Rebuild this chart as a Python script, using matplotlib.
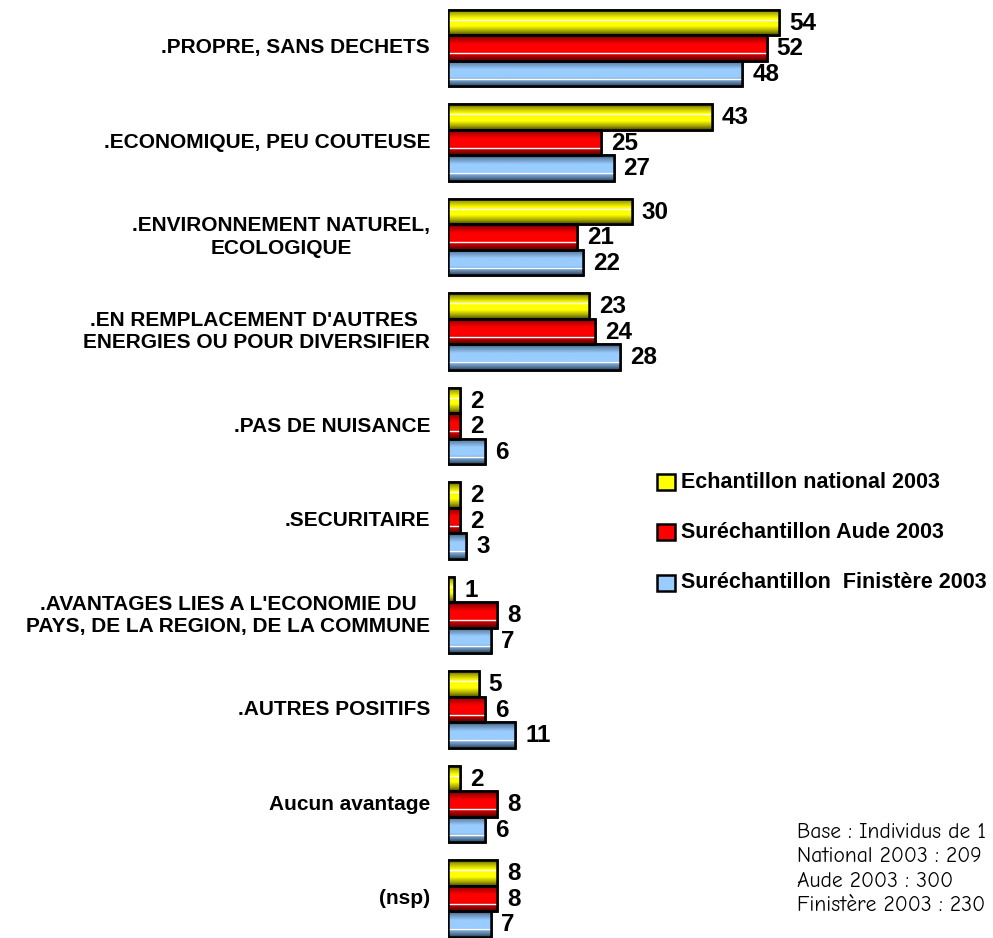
import matplotlib
matplotlib.use("Agg")
import matplotlib.pyplot as plt
import numpy as np
from matplotlib.colors import LinearSegmentedColormap, to_rgb
from matplotlib.patches import Rectangle

categories = [
    ".PROPRE, SANS DECHETS",
    ".ECONOMIQUE, PEU COUTEUSE",
    ".ENVIRONNEMENT NATUREL,\nECOLOGIQUE",
    ".EN REMPLACEMENT D'AUTRES \nENERGIES OU POUR DIVERSIFIER",
    ".PAS DE NUISANCE",
    ".SECURITAIRE",
    ".AVANTAGES LIES A L'ECONOMIE DU\nPAYS, DE LA REGION, DE LA COMMUNE",
    ".AUTRES POSITIFS",
    "Aucun avantage",
    "(nsp)",
]
series_names = ["Echantillon national 2003", "Suréchantillon Aude 2003", "Suréchantillon  Finistère 2003"]
national = [54, 43, 30, 23, 2, 2, 1, 5, 2, 8]
aude = [52, 25, 21, 24, 2, 2, 8, 6, 8, 8]
finistere = [48, 27, 22, 28, 6, 3, 7, 11, 6, 7]
base_lines = ["Base : Individus de 1", "National 2003 : 209", "Aude 2003 : 300", "Finistère 2003 : 230"]

colors = ["#FFFF00", "#FF0000", "#99CCFF"]
darks = ["#4A4A00", "#500000", "#2E4660"]

W, H = 993, 938
fig = plt.figure(figsize=(W / 100, H / 100), dpi=100)
px_per_unit = 6.13
pitch = 94.5
ax_left = 448
ax = fig.add_axes([ax_left / W, 0, (W - ax_left) / W, 1])
xlim = (0, (W - ax_left) / px_per_unit)
ylim = ((H - 48) / pitch, -48 / pitch)
ax.axis("off")

bh = 25.5 / pitch
y = np.arange(len(categories))
offsets = [-bh, 0, bh]
all_series = [national, aude, finistere]


def blend(a, b, t):
    a, b = np.array(to_rgb(a)), np.array(to_rgb(b))
    return tuple(a * (1 - t) + b * t)


for s, (vals, c, d) in enumerate(zip(all_series, colors, darks)):
    cmap = LinearSegmentedColormap.from_list(
        "g%d" % s,
        [(0.0, d), (0.12, blend(d, c, 0.5)), (0.35, c), (0.65, c), (0.85, blend(d, c, 0.5)), (1.0, d)])
    bars = ax.barh(y + offsets[s], vals, height=bh, color=c, edgecolor="black",
                   linewidth=1.8, zorder=3)
    for b, v in zip(bars, vals):
        x0, yb = b.get_x(), b.get_y()
        w, h = b.get_width(), b.get_height()
        grad = np.linspace(0, 1, 64).reshape(-1, 1)
        im = ax.imshow(grad, extent=(x0, x0 + w, yb + h, yb), aspect="auto", origin="upper",
                       cmap=cmap, vmin=0, vmax=1, zorder=3.5, interpolation="bilinear")
        im.set_clip_path(b)
        wl = 0.4 if s == 0 else 0.7
        ax.plot([x0, x0 + w], [yb + h * wl, yb + h * wl], color="white", lw=1.0, zorder=3.7,
                solid_capstyle="butt")
        edge = Rectangle((x0, yb), w, h, fill=False, edgecolor="black", lw=1.8, zorder=4)
        ax.add_patch(edge)
        ax.text(v + 10 / px_per_unit, yb + h / 2 + 0.01, str(v), ha="left", va="center",
                fontsize=17.5, fontweight="bold", family="Liberation Sans", zorder=5)

ax.set_xlim(*xlim)
ax.set_ylim(*ylim)

for i, cat in enumerate(categories):
    fig.text(430 / W, 1 - (48 + i * pitch) / H, cat, ha="right", va="center",
             multialignment="center", fontsize=15, fontweight="bold",
             family=["Liberation Sans", "DejaVu Sans"], linespacing=1.2)

# legend
leg_y = [482, 532, 583]
for name, c, d, ly in zip(series_names, colors, darks, leg_y):
    fig.patches.append(Rectangle((657 / W, 1 - (ly + 8) / H), 18 / W, 16 / H,
                                 transform=fig.transFigure, facecolor=c,
                                 edgecolor="black", lw=1.8))
    fig.text(681 / W, 1 - ly / H, name, ha="left", va="center", fontsize=15.5,
             fontweight="bold", family=["Liberation Sans Narrow", "Liberation Sans"])

for k, line in enumerate(base_lines):
    fig.text(797 / W, 1 - (832 + k * 24.5) / H, line, ha="left", va="center",
             fontsize=15.5, family=["Comic Neue", "Open Sans", "DejaVu Sans"])

fig.savefig("out.png", dpi=100)
